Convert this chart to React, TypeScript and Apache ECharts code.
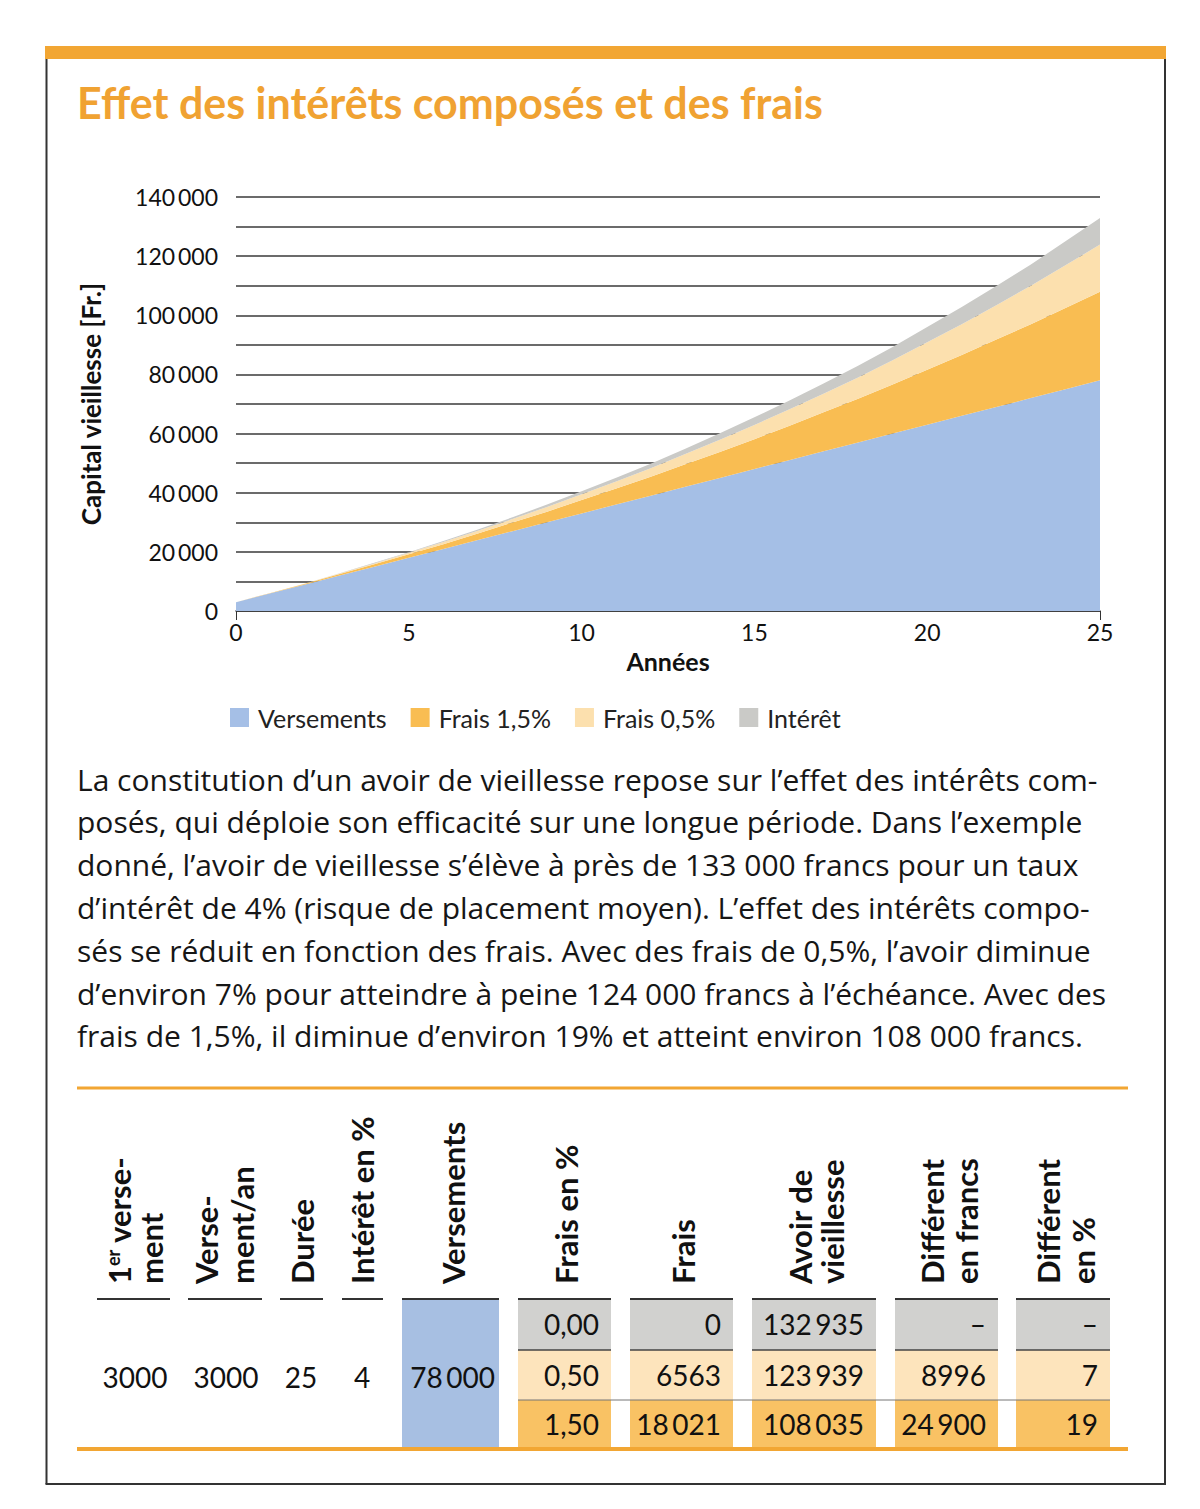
import React, { useEffect, useRef } from "react";
import * as echarts from "echarts";

// ---------- Chart data ----------
const years = [0, 1, 2, 3, 4, 5, 6, 7, 8, 9, 10, 11, 12, 13, 14, 15, 16, 17, 18, 19, 20, 21, 22, 23, 24, 25];
const versements = [3000, 6000, 9000, 12000, 15000, 18000, 21000, 24000, 27000, 30000, 33000, 36000, 39000, 42000, 45000, 48000, 51000, 54000, 57000, 60000, 63000, 66000, 69000, 72000, 75000, 78000];
const frais15 = [0, 100, 200, 500, 800, 1200, 1600, 2200, 2900, 3600, 4500, 5400, 6400, 7600, 8800, 10100, 11600, 13200, 14800, 16600, 18600, 20600, 22800, 25000, 27500, 30000];
const frais05 = [0, 0, 100, 200, 300, 500, 700, 900, 1200, 1600, 2000, 2400, 2900, 3500, 4100, 4800, 5500, 6300, 7200, 8200, 9300, 10400, 11600, 13000, 14400, 15900];
const interet = [0, 0, 0, 100, 200, 200, 400, 500, 600, 800, 1000, 1300, 1500, 1800, 2200, 2600, 3000, 3400, 3900, 4500, 5100, 5800, 6500, 7200, 8100, 9000];
const seriesNames = ["Versements", "Frais 1,5%", "Frais 0,5%", "Intérêt"];
const seriesColors = ["#A5BFE6", "#F9BD52", "#FCE0AE", "#CACAC7"];

// ---------- Texts ----------
const TITLE = "Effet des intérêts composés et des frais";
const Y_NAME = "Capital vieillesse [Fr.]";
const X_NAME = "Années";
const paragraph = [
  "La constitution d’un avoir de vieillesse repose sur l’effet des intérêts com-",
  "posés, qui déploie son efficacité sur une longue période. Dans l’exemple",
  "donné, l’avoir de vieillesse s’élève à près de 133 000 francs pour un taux",
  "d’intérêt de 4% (risque de placement moyen). L’effet des intérêts compo-",
  "sés se réduit en fonction des frais. Avec des frais de 0,5%, l’avoir diminue",
  "d’environ 7% pour atteindre à peine 124 000 francs à l’échéance. Avec des",
  "frais de 1,5%, il diminue d’environ 19% et atteint environ 108 000 francs.",
];

// ---------- Table data ----------
const tableParams = [3000, 3000, 25, 4];
const tableVersements = 78000;
const tableFraisPct = [0, 0.5, 1.5];
const tableFrais = [0, 6563, 18021];
const tableAvoir = [132935, 123939, 108035];
const tableDiffFr = [null, 8996, 24900];
const tableDiffPct = [null, 7, 19];
const tableHeaders = [
  ["{n|1}{s|er}{n| verse-}", "ment"],
  ["Verse-", "ment/an"],
  ["Durée"],
  ["Intérêt en %"],
  ["Versements"],
  ["Frais en %"],
  ["Frais"],
  ["Avoir de", "vieillesse"],
  ["Différent", "en francs"],
  ["Différent", "en %"],
];

const FONT = "Lato";
const TEXT_FONT = "Open Sans";
const ORANGE = "#F2A633";
const rowColors = ["#D1D1CF", "#FDE4BC", "#F9C264"];

function fmtNum(n: number | null): string {
  if (n === null) return "–";
  if (n >= 10000) {
    const s = String(n);
    return s.slice(0, s.length - 3) + "\u2009" + s.slice(s.length - 3);
  }
  return String(n);
}
function fmtPct(n: number): string {
  return n.toFixed(2).replace(".", ",");
}

function buildGraphic(): any[] {
  const g: any[] = [];
  // frame
  g.push({ type: "rect", shape: { x: 45, y: 46, width: 1121, height: 13 }, style: { fill: ORANGE } });
  g.push({ type: "line", shape: { x1: 46.5, y1: 59, x2: 46.5, y2: 1484 }, style: { stroke: "#333", lineWidth: 2 } });
  g.push({ type: "line", shape: { x1: 1165, y1: 59, x2: 1165, y2: 1484 }, style: { stroke: "#333", lineWidth: 2 } });
  g.push({ type: "line", shape: { x1: 45.5, y1: 1484, x2: 1166, y2: 1484 }, style: { stroke: "#333", lineWidth: 2 } });
  // title
  g.push({
    type: "text", x: 77, y: 102,
    style: { text: TITLE, fontFamily: FONT, fontSize: 43, fontWeight: "bold", fill: "#F0A232", align: "left", verticalAlign: "middle" },
  });
  // paragraph
  paragraph.forEach((line, i) => {
    g.push({
      type: "text", x: 77, y: 779 + i * 42.8,
      style: { text: line, fontFamily: TEXT_FONT, fontSize: 30, fill: "#161616", align: "left", verticalAlign: "middle" },
    });
  });
  // table orange rules
  g.push({ type: "rect", shape: { x: 77, y: 1086.5, width: 1051, height: 3 }, style: { fill: ORANGE } });
  // blue versements box
  g.push({ type: "rect", shape: { x: 402, y: 1299, width: 97, height: 149 }, style: { fill: "#A7BFE2" } });
  // right side rows
  const boxes = [[518, 611], [630, 733], [752, 876], [895, 998], [1016, 1110]];
  const rowY = [1299, 1350, 1400, 1448];
  for (let r = 0; r < 3; r++) {
    boxes.forEach(([x0, x1]) => {
      g.push({ type: "rect", shape: { x: x0, y: rowY[r], width: x1 - x0, height: rowY[r + 1] - rowY[r] }, style: { fill: rowColors[r] } });
    });
  }
  // header rules (left columns + blue + right boxes)
  const headerRules = [[97, 170], [188, 262], [280, 323], [342, 383], [402, 499], ...boxes];
  headerRules.forEach(([x0, x1]) => {
    g.push({ type: "line", shape: { x1: x0, y1: 1299, x2: x1, y2: 1299 }, style: { stroke: "#333", lineWidth: 2 } });
  });
  boxes.forEach(([x0, x1]) => {
    g.push({ type: "line", shape: { x1: x0, y1: 1350, x2: x1, y2: 1350 }, style: { stroke: "#444", lineWidth: 1.5 } });
  });
  g.push({ type: "line", shape: { x1: 518, y1: 1400, x2: 1110, y2: 1400 }, style: { stroke: "#777", lineWidth: 1 } });
  g.push({ type: "rect", shape: { x: 77, y: 1447, width: 1051, height: 4 }, style: { fill: ORANGE } });

  // headers (rotated, reading upwards)
  const headerX = [[130, 162], [217, 253], [313], [373], [464], [577], [694], [811, 843], [943, 977], [1059, 1094]];
  tableHeaders.forEach((lines, c) => {
    lines.forEach((txt, l) => {
      g.push({
        type: "text", x: headerX[c][l] - 11, y: 1284, rotation: Math.PI / 2,
        style: {
          text: txt, fontFamily: FONT, fontSize: 31, fontWeight: "bold", fill: "#111", align: "left", verticalAlign: "middle",
          rich: {
            n: { fontFamily: FONT, fontSize: 31, fontWeight: "bold", fill: "#111" },
            s: { fontFamily: FONT, fontSize: 18, fontWeight: "bold", fill: "#111", verticalAlign: "top" },
          },
        },
      });
    });
  });

  // left values
  const paramX = [135, 226, 301, 362];
  tableParams.forEach((v, i) => {
    g.push({ type: "text", x: paramX[i], y: 1377, style: { text: fmtNum(v), fontFamily: FONT, fontSize: 28, fill: "#111", align: "center", verticalAlign: "middle" } });
  });
  g.push({ type: "text", x: 495, y: 1377, style: { text: fmtNum(tableVersements), fontFamily: FONT, fontSize: 28, fill: "#111", align: "right", verticalAlign: "middle" } });

  // right values
  const rowCy = [1324, 1375, 1424];
  const cols = [tableFraisPct.map(fmtPct), tableFrais.map(fmtNum), tableAvoir.map(fmtNum), tableDiffFr.map(fmtNum), tableDiffPct.map(fmtNum)];
  cols.forEach((vals, c) => {
    vals.forEach((t, r) => {
      g.push({ type: "text", x: boxes[c][1] - 12, y: rowCy[r], style: { text: t, fontFamily: FONT, fontSize: 28, fill: "#111", align: "right", verticalAlign: "middle" } });
    });
  });
  return g;
}

export default function App() {
  const ref = useRef<HTMLDivElement>(null);
  useEffect(() => {
    if (!ref.current) return;
    const chart = echarts.init(ref.current, null, { renderer: "svg" });
    const layers = [versements, frais15, frais05, interet];
    chart.setOption({
      animation: false,
      backgroundColor: "#ffffff",
      textStyle: { fontFamily: FONT },
      grid: { left: 236, right: 100, top: 197, bottom: 898, containLabel: false },
      legend: {
        left: 230, top: 705, padding: 0, icon: "rect", itemWidth: 19, itemHeight: 19, itemGap: 24,
        data: seriesNames,
        textStyle: { fontFamily: FONT, fontSize: 25, color: "#222", padding: [0, 0, 0, 4] },
      },
      xAxis: {
        type: "category", data: years.map(String), boundaryGap: false,
        axisLine: { lineStyle: { color: "#333", width: 1.5 } },
        axisTick: { show: true, length: 9, interval: (i: number) => i === 0 || i === years.length - 1, lineStyle: { color: "#333" } },
        axisLabel: { interval: (i: number) => i % 5 === 0, fontFamily: FONT, fontSize: 23, color: "#111", margin: 9 },
        name: X_NAME, nameLocation: "middle", nameGap: 37,
        nameTextStyle: { fontFamily: FONT, fontWeight: "bold", fontSize: 25, color: "#111" },
      },
      yAxis: {
        type: "value", min: 0, max: 140000, interval: 10000,
        axisLine: { show: false }, axisTick: { show: false },
        splitLine: { lineStyle: { color: "#3a3a3a", width: 1.5 } },
        axisLabel: {
          fontFamily: FONT, fontSize: 23, color: "#111", margin: 18,
          formatter: (v: number) => (v % 20000 === 0 ? (v === 0 ? "0" : fmtNum(v)) : ""),
        },
        name: Y_NAME, nameLocation: "middle", nameRotate: 90, nameGap: 132,
        nameTextStyle: { fontFamily: FONT, fontWeight: "bold", fontSize: 26, color: "#111" },
      },
      series: layers.map((d, i) => ({
        name: seriesNames[i], type: "line", stack: "total", data: d,
        showSymbol: false, symbol: "none",
        lineStyle: { width: 0, color: seriesColors[i] },
        itemStyle: { color: seriesColors[i] },
        areaStyle: { color: seriesColors[i], opacity: 1 },
      })),
      graphic: buildGraphic(),
    });
    return () => chart.dispose();
  }, []);
  return <div ref={ref} style={{ position: "absolute", left: 0, top: 0, width: 1200, height: 1509 }} />;
}
